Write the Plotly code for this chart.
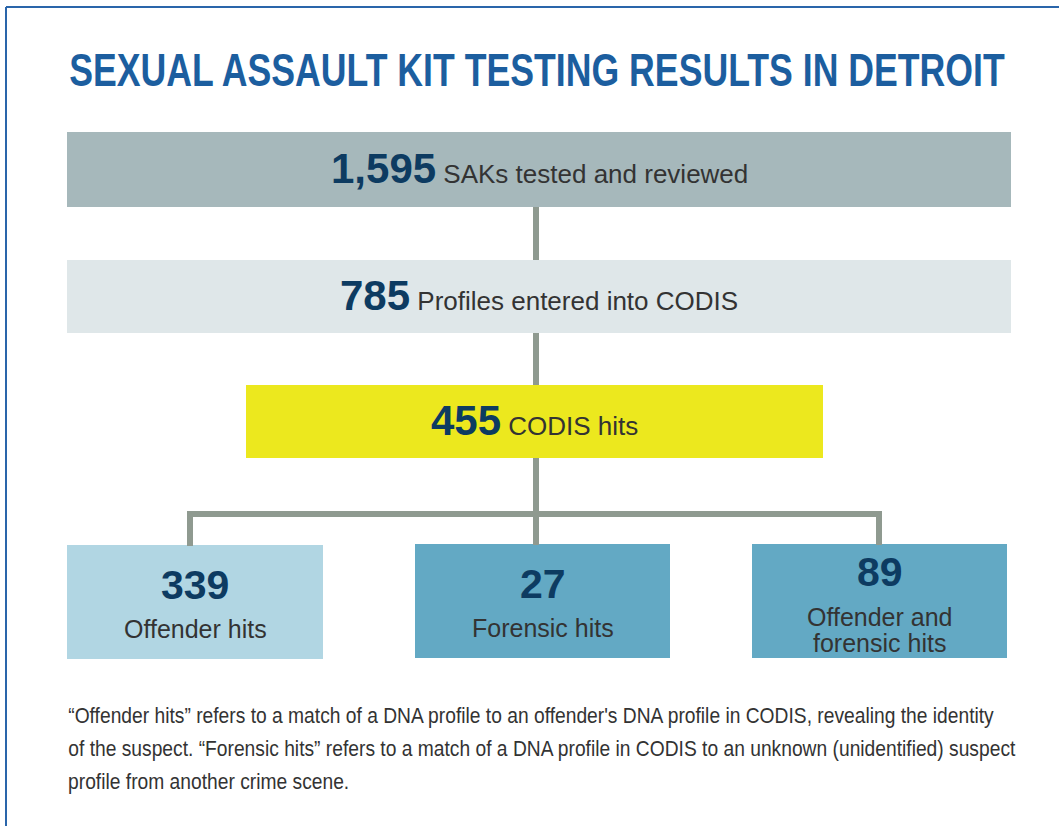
import json
import plotly.graph_objects as go

# ---- data ----
title_text = "SEXUAL ASSAULT KIT TESTING RESULTS IN DETROIT"
stage_values = [1595, 785, 455]
stage_labels = ["SAKs tested and reviewed", "Profiles entered into CODIS", "CODIS hits"]
hit_values = [339, 27, 89]
hit_labels = [["Offender hits"], ["Forensic hits"], ["Offender and", "forensic hits"]]
footnote_lines = [
    "\u201cOffender hits\u201d refers to a match of a DNA profile to an offender's DNA profile in CODIS, revealing the identity",
    "of the suspect. \u201cForensic hits\u201d refers to a match of a DNA profile in CODIS to an unknown (unidentified) suspect",
    "profile from another crime scene.",
]

# ---- layout / style ----
W, H = 1059, 826
stage_boxes = [(67, 1011, 132, 207), (67, 1011, 260, 333), (246, 823, 385, 458)]
stage_colors = ["#a6b8bb", "#dfe7e9", "#ece81e"]
hit_boxes = [(67, 323, 545, 659), (415, 670, 544, 658), (752, 1007, 544, 658)]
hit_colors = ["#b1d6e3", "#63a9c4", "#63a9c4"]
num_color = "#0d3b61"
lab_color = "#333333"
line_color = "#8f9a90"
title_color = "#1c5e9f"
border_color = "#2a65aa"
sans = "Liberation Sans, Arial, sans-serif"
title_width = 936      # condensed title spans this many px
foot_width = 926       # condensed first footnote line spans this many px

fig = go.Figure()
shapes = []
annotations = []

# border
shapes.append(dict(type="line", x0=6, x1=W, y0=7, y1=7, line=dict(color=border_color, width=2)))
shapes.append(dict(type="line", x0=6, x1=6, y0=7, y1=H, line=dict(color=border_color, width=2)))

# connectors
cx = 536
shapes.append(dict(type="line", x0=cx, x1=cx, y0=207, y1=260, line=dict(color=line_color, width=6)))
shapes.append(dict(type="line", x0=cx, x1=cx, y0=333, y1=385, line=dict(color=line_color, width=6)))
shapes.append(dict(type="line", x0=cx, x1=cx, y0=458, y1=545, line=dict(color=line_color, width=6)))
shapes.append(dict(type="line", x0=190, x1=880, y0=514, y1=514, line=dict(color=line_color, width=6)))
shapes.append(dict(type="line", x0=190, x1=190, y0=511, y1=546, line=dict(color=line_color, width=6)))
shapes.append(dict(type="line", x0=879, x1=879, y0=511, y1=545, line=dict(color=line_color, width=6)))

# stage boxes
for (x0, x1, y0, y1), c, v, lab in zip(stage_boxes, stage_colors, stage_values, stage_labels):
    shapes.append(dict(type="rect", x0=x0, x1=x1, y0=y0, y1=y1, fillcolor=c, line=dict(width=0), layer="below"))
    annotations.append(dict(
        x=(x0 + x1) / 2, y=(y0 + y1) / 2 - 1, xref="x", yref="y", showarrow=False,
        xanchor="center", yanchor="middle",
        text=f"<b>{v:,}</b><span style='font-size:26px;color:{lab_color}'> {lab}</span>",
        font=dict(family=sans, size=42, color=num_color),
    ))

# hit boxes
for i, ((x0, x1, y0, y1), c, v, labs) in enumerate(zip(hit_boxes, hit_colors, hit_values, hit_labels)):
    shapes.append(dict(type="rect", x0=x0, x1=x1, y0=y0, y1=y1, fillcolor=c, line=dict(width=0), layer="below"))
    xc = (x0 + x1) / 2
    if len(labs) == 1:
        ny, ly = y0 + 40, [y0 + 84]
    else:
        ny, ly = y0 + 28, [y0 + 73, y0 + 99]
    annotations.append(dict(x=xc, y=ny, xref="x", yref="y", showarrow=False, xanchor="center", yanchor="middle",
                            text=f"<b>{v}</b>", font=dict(family=sans, size=41, color=num_color)))
    for lab, yy in zip(labs, ly):
        annotations.append(dict(x=xc, y=yy, xref="x", yref="y", showarrow=False, xanchor="center", yanchor="middle",
                                text=lab, font=dict(family=sans, size=25, color=lab_color)))

# title
annotations.append(dict(x=67, y=70, xref="x", yref="y", showarrow=False, xanchor="left", yanchor="middle",
                        text=f"<b>{title_text}</b>", font=dict(family=sans, size=46, color=title_color)))

# footnote
for i, t in enumerate(footnote_lines):
    annotations.append(dict(x=66, y=715 + 33 * i, xref="x", yref="y", showarrow=False, xanchor="left",
                            yanchor="middle", text=t, font=dict(family=sans, size=22, color=lab_color)))

fig.update_layout(
    width=W, height=H, margin=dict(l=0, r=0, t=0, b=0),
    paper_bgcolor="white", plot_bgcolor="white",
    xaxis=dict(range=[0, W], visible=False, fixedrange=True),
    yaxis=dict(range=[H, 0], visible=False, fixedrange=True),
    shapes=shapes, annotations=annotations, showlegend=False,
)

# condense title and footnote horizontally (no condensed font installed), keeping left edges fixed
js = """
document.body.style.margin='0';document.body.style.overflow='hidden';
var gd = document.getElementById('{plot_id}');
var TITLE = %s, FOOT = %s, TW = %d, FW = %d;
var texts = Array.prototype.slice.call(gd.querySelectorAll('text.annotation-text'));
function squeeze(t, s) {
  var bb = t.getBBox();
  var x0 = bb.x;
  t.setAttribute('transform', 'translate(' + x0 + ',0) scale(' + s + ',1) translate(' + (-x0) + ',0)');
}
var footEls = [], fs = 1;
texts.forEach(function(t) {
  var s = t.textContent;
  if (s === TITLE) { squeeze(t, TW / t.getBBox().width); }
  var k = FOOT.indexOf(s);
  if (k >= 0) { footEls[k] = t; }
});
if (footEls[0]) { fs = FW / footEls[0].getBBox().width; }
footEls.forEach(function(t) { if (t) squeeze(t, fs); });
""" % (json.dumps(title_text), json.dumps(footnote_lines), title_width, foot_width)

fig.write_html("out.html", config={"displayModeBar": False}, post_script=js)
